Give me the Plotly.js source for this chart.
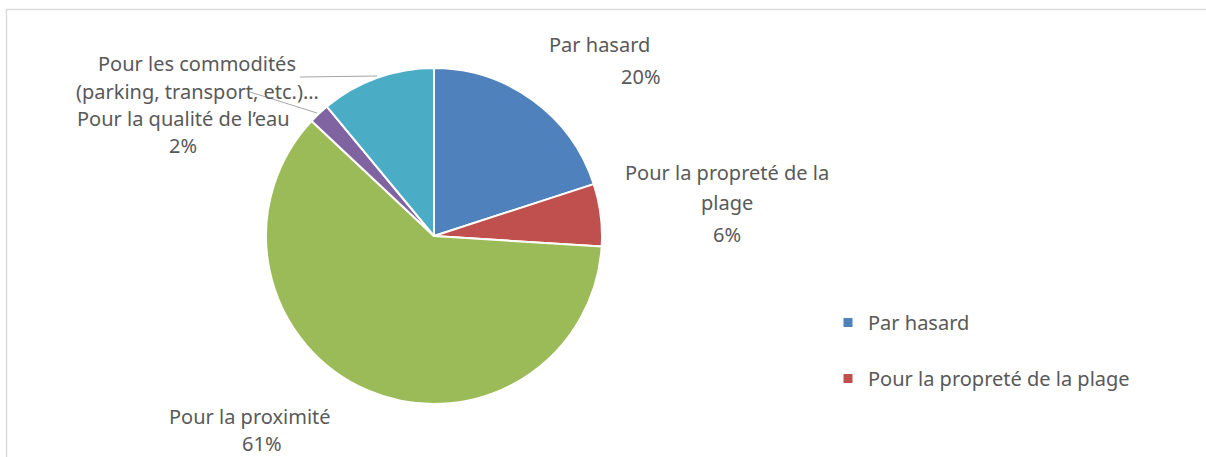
<!DOCTYPE html>
<html><head><meta charset="utf-8">
<script src="https://cdn.plot.ly/plotly-3.0.1.min.js"></script>
<style>html,body{margin:0;padding:0;background:#fff}#chart{width:1206px;height:457px}</style>
</head><body><div id="chart"></div>
<script>
const labels = ["Par hasard", "Pour la propreté de la plage", "Pour la proximité", "Pour la qualité de l’eau", "Pour les commodités (parking, transport, etc.)"];
const values = [20, 6, 61, 2, 11];
const colors = ["#4F81BD", "#C0504D", "#9BBB59", "#8064A2", "#4BACC6"];
const legendItems = [0, 1];

const W = 1206, H = 457;
const px = x => x / W, py = y => (H - y) / H;
const FONT = "Noto Sans, sans-serif";
const TXT = "#595959";
const FS = 20;

const pie = {
  type: "pie", labels: labels, values: values, sort: false, direction: "clockwise", rotation: 0,
  marker: {colors: colors, line: {color: "#fff", width: 2}},
  textinfo: "none", hoverinfo: "label+percent", showlegend: false,
  domain: {x: [px(266), px(602)], y: [py(404), py(68)]}
};
const legendTraces = legendItems.map(i => ({
  type: "scatter", mode: "markers", x: [null], y: [null], name: labels[i],
  legendgroup: "g" + i,
  marker: {symbol: "square", size: 9, color: colors[i]}
}));

const pct = v => Math.round(v / values.reduce((a, b) => a + b, 0) * 100) + "%";
function ann(text, x, y) {
  return {text: text, x: px(x), y: py(y), xref: "paper", yref: "paper", showarrow: false,
    xanchor: "center", yanchor: "middle", borderpad: 0,
    font: {family: FONT, size: FS, color: TXT}};
}
const annotations = [
  ann(labels[0], 599, 45), ann(pct(values[0]), 641, 76),
  ann("Pour la propreté de la", 727, 173), ann("plage", 727, 203), ann(pct(values[1]), 727, 234),
  ann("Pour les commodités", 197, 63), ann("(parking, transport, etc.)…", 197, 92),
  ann(labels[3], 183, 118), ann(pct(values[3]), 183, 145),
  ann(labels[2], 250, 416), ann(pct(values[2]), 262, 443)
];
const lineShape = (x0, y0, x1, y1) => ({type: "line", xref: "paper", yref: "paper",
  x0: px(x0), y0: py(y0), x1: px(x1), y1: py(y1), line: {color: "#a6a6a6", width: 1}});
const shapes = [
  {type: "rect", xref: "paper", yref: "paper", x0: px(6.5), x1: 1.05, y0: -0.1, y1: py(9.5),
   line: {color: "#d9d9d9", width: 1.5}, fillcolor: "rgba(0,0,0,0)"},
  lineShape(300, 77, 377, 76),
  lineShape(250, 92, 317, 113)
];

Plotly.newPlot("chart", [pie].concat(legendTraces), {
  width: W, height: H, margin: {l: 0, r: 0, t: 0, b: 0},
  paper_bgcolor: "#fff", plot_bgcolor: "#fff",
  xaxis: {visible: false}, yaxis: {visible: false},
  showlegend: true,
  legend: {x: px(828), y: py(303), xanchor: "left", yanchor: "top", tracegroupgap: 27,
    itemwidth: 30, font: {family: FONT, size: FS, color: TXT}, bgcolor: "rgba(0,0,0,0)"},
  annotations: annotations, shapes: shapes
}, {displayModeBar: false, staticPlot: true});
</script></body></html>
